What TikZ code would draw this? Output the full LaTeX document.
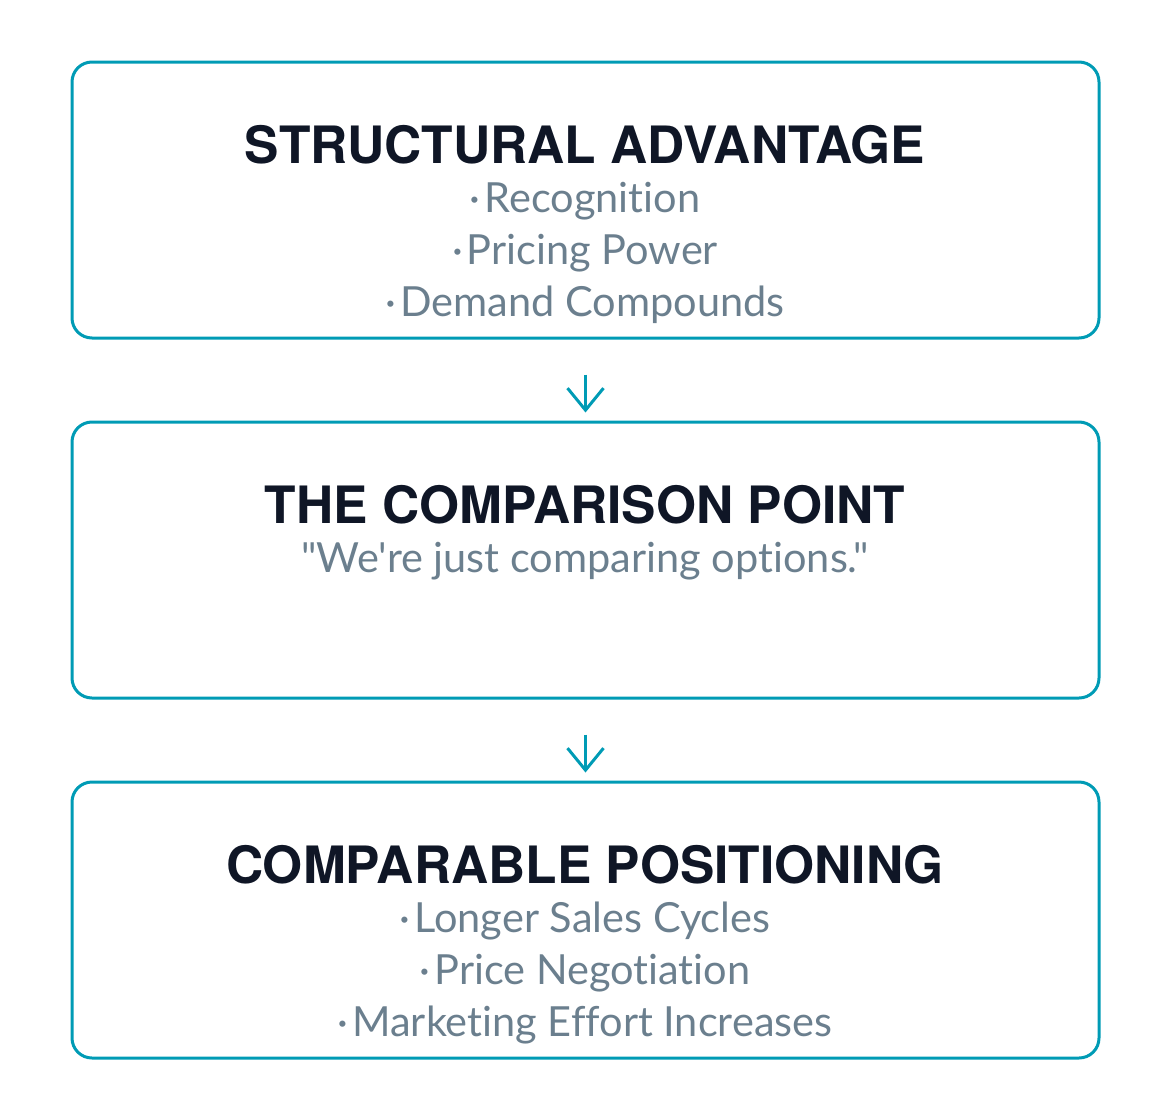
\documentclass[tikz,border=0pt]{standalone}
\usepackage{fontspec}
\setmainfont{Lato}
\newfontfamily\headfont{TeX Gyre Heros}
\newfontfamily\bodyfont[Ligatures={NoCommon}]{Lato}
\usetikzlibrary{arrows.meta}
\definecolor{teal}{HTML}{009BB5}
\definecolor{headc}{HTML}{0F1626}
\definecolor{bodyc}{HTML}{6B7F8E}
\tikzset{
  box/.style={draw=teal, line width=3pt, rounded corners=20pt, minimum width=1027pt, minimum height=276pt, inner sep=0pt},
  head/.style={anchor=base, inner sep=0pt, text=headc, font=\headfont\bfseries\fontsize{51.5}{60}\selectfont},
  body/.style={anchor=base, inner sep=0pt, text=bodyc, font=\bodyfont\fontsize{41.5}{48}\selectfont},
  conn/.style={draw=teal, line width=3pt, -{Straight Barb[length=22pt,width=36pt,line width=3pt]}, shorten <=35pt, shorten >=8pt}
}
\newcommand{\bul}{·\kern4pt}
\begin{document}
\begin{tikzpicture}[x=1pt,y=-1pt]
\useasboundingbox (0,0) rectangle (1170,1100);
\node[box] (b1) at (585.5,200) {};
\node[box] (b2) at (585.5,560) {};
\node[box] (b3) at (585.5,920) {};
\node[head] (h1) at (585,163) {STRUCTURAL ADVANTAGE};
\node[body] (t11) at (585,212) {\bul Recognition};
\node[body] (t12) at (585,264) {\bul Pricing Power};
\node[body] (t13) at (585,316) {\bul Demand Compounds};
\node[head] (h2) at (585,523) {THE COMPARISON POINT};
\node[body] (t21) at (585,572) {"We're just comparing options."};
\node[head] (h3) at (585,883) {COMPARABLE POSITIONING};
\node[body] (t31) at (585,932) {\bul Longer Sales Cycles};
\node[body] (t32) at (585,984) {\bul Price Negotiation};
\node[body] (t33) at (585,1036) {\bul Marketing Effort Increases};
\draw[conn] (b1.south) -- (b2.north);
\draw[conn] (b2.south) -- (b3.north);
\end{tikzpicture}
\end{document}
